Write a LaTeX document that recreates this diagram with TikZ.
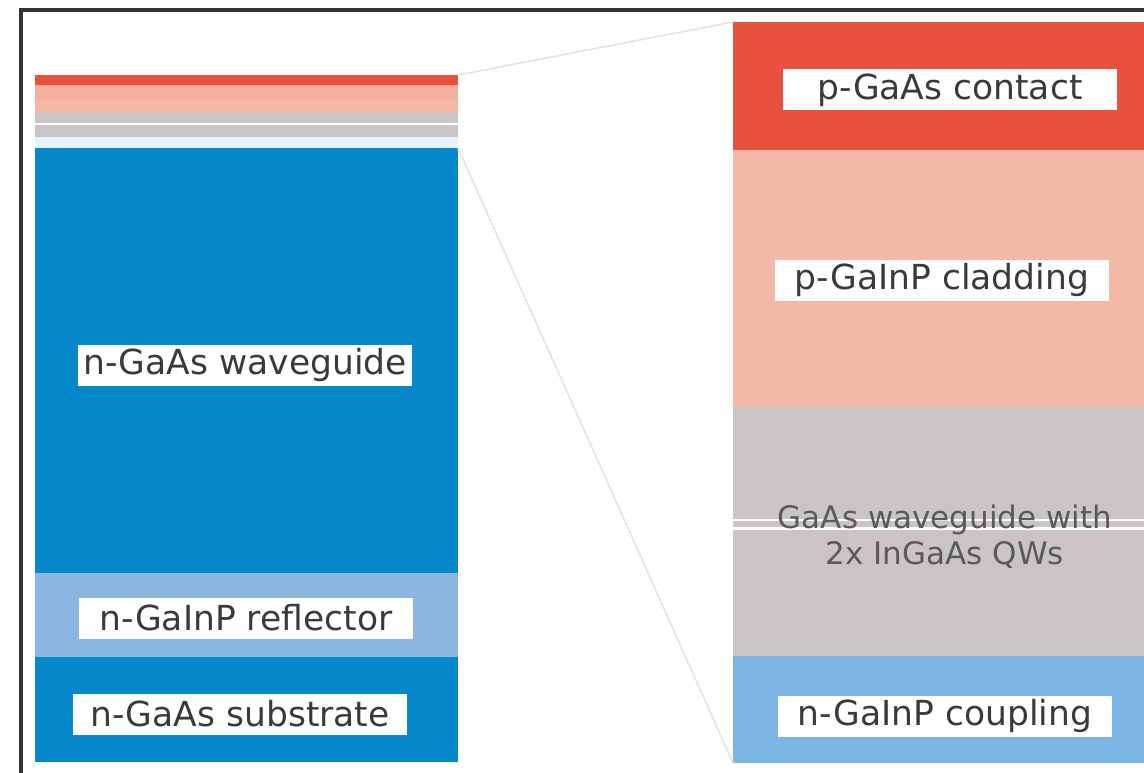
\documentclass[tikz,border=0pt]{standalone}
\usepackage{fontspec}
\setmainfont{DejaVu Sans}
\definecolor{cred}{HTML}{E9513F}
\definecolor{cpinkA}{HTML}{F6AF9F}
\definecolor{cpink}{HTML}{F4B9A6}
\definecolor{cgrey}{HTML}{C9C5C6}
\definecolor{cblue}{HTML}{0688CB}
\definecolor{crefl}{HTML}{8AB6DF}
\definecolor{ccoup}{HTML}{7DB5E5}
\definecolor{cpale}{HTML}{E6F2FA}
\definecolor{cframe}{HTML}{333333}
\definecolor{ctext}{HTML}{3A3A3A}
\definecolor{cgtext}{HTML}{5A5A5A}
\definecolor{cline}{HTML}{E4E4E4}
\tikzset{
  layer/.style={draw=none, inner sep=0pt, outer sep=0pt, anchor=north west},
  lbl/.style={fill=white, text=ctext, inner sep=0pt, minimum width=334pt, minimum height=41pt,
    font=\fontsize{34.5}{40}\selectfont},
  zoomline/.style={draw=cline, line width=1.6pt},
}
\begin{document}
\begin{tikzpicture}[x=1pt, y=-1pt]
\useasboundingbox (0,0) rectangle (1144,773);
\fill[white] (0,0) rectangle (1144,773);
% left stack
\node[layer, fill=cred,   minimum width=423pt, minimum height=10pt]  (lred)  at (35,75) {};
\node[layer, fill=cpinkA, minimum width=423pt, minimum height=15pt]  (lpa)   at (35,85) {};
\node[layer, fill=cpink,  minimum width=423pt, minimum height=12pt]  (lpb)   at (35,100) {};
\node[layer, fill=cgrey,  minimum width=423pt, minimum height=11pt]  (lga)   at (35,112) {};
\node[layer, fill=white,  minimum width=423pt, minimum height=2pt]   (lqw)   at (35,123) {};
\node[layer, fill=cgrey,  minimum width=423pt, minimum height=12pt]  (lgb)   at (35,125) {};
\node[layer, fill=cpale,  minimum width=423pt, minimum height=11pt]  (lcp)   at (35,137) {};
\node[layer, fill=cblue,  minimum width=423pt, minimum height=425pt] (lwg)   at (35,148) {};
\node[layer, fill=crefl,  minimum width=423pt, minimum height=84pt]  (lref)  at (35,573) {};
\node[layer, fill=cblue,  minimum width=423pt, minimum height=105pt] (lsub)  at (35,657) {};
% right stack
\node[layer, fill=cred,  minimum width=411pt, minimum height=128pt] (rred)  at (733,22) {};
\node[layer, fill=cpink, minimum width=411pt, minimum height=257pt] (rpink) at (733,150) {};
\node[layer, fill=cgrey, minimum width=411pt, minimum height=249pt] (rgrey) at (733,407) {};
\node[layer, fill=white, minimum width=411pt, minimum height=2.5pt] (rqw1)  at (733,518.5) {};
\node[layer, fill=white, minimum width=411pt, minimum height=2.5pt] (rqw2)  at (733,527) {};
\node[layer, fill=ccoup, minimum width=411pt, minimum height=107pt] (rcoup) at (733,656) {};
% zoom connectors
\draw[zoomline] (lred.north east) -- (rred.north west);
\draw[zoomline] (lwg.north east) -- (rcoup.south west);
% labels
\node[lbl] (t1) at (950,90)  {p-GaAs contact};
\node[lbl] (t2) at (942,280) {p-GaInP cladding};
\node[text=cgtext, align=center, inner sep=0pt, font=\fontsize{31}{36}\selectfont] (t3) at (945,537)
  {GaAs waveguide with\\2x InGaAs QWs};
\node[lbl] (t4) at (945,716) {n-GaInP coupling};
\node[lbl] (t5) at (245,365) {n-GaAs waveguide};
\node[lbl] (t6) at (246,618) {n-GaInP reflector};
\node[lbl] (t7) at (240,714) {n-GaAs substrate};
% frame
\draw[cframe, line width=4pt, line join=miter] (20.5,773) -- (20.5,10.5) -- (1144,10.5);
\end{tikzpicture}
\end{document}
